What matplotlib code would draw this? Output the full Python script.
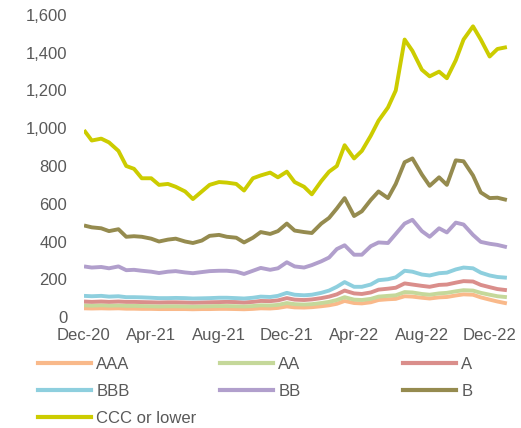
import numpy as np
import pandas as pd
import matplotlib
matplotlib.use('Agg')
import matplotlib.pyplot as plt
import matplotlib.dates as mdates
from matplotlib.lines import Line2D
from matplotlib.ticker import FuncFormatter

plt.rcParams['font.family'] = ['Liberation Sans', 'DejaVu Sans']

# semi-monthly sampling, Dec-20 .. Jan-23
dates = pd.date_range('2020-12-01', '2023-01-01', freq='SMS')

aaa = [46, 45, 46, 45, 46, 44, 44, 43, 43, 42, 42, 42, 42, 41, 42, 42, 43, 43, 42, 41,
       43, 46, 45, 48, 56, 51, 50, 52, 57, 62, 70, 85, 74, 72, 78, 90, 94, 96, 110, 108,
       102, 98, 104, 106, 114, 120, 118, 104, 92, 82, 72]
aa = [62, 60, 62, 60, 61, 59, 59, 58, 57, 56, 57, 57, 56, 55, 56, 57, 58, 58, 57, 56,
      58, 62, 61, 64, 74, 68, 66, 68, 74, 80, 90, 105, 92, 90, 96, 108, 112, 115, 132, 130,
      122, 118, 125, 128, 136, 142, 140, 128, 118, 110, 105]
a = [82, 80, 82, 80, 82, 80, 80, 79, 78, 77, 78, 78, 77, 76, 77, 78, 79, 80, 79, 77,
     80, 85, 84, 88, 100, 92, 90, 93, 100, 108, 120, 140, 125, 122, 130, 145, 150, 155, 178, 172,
     165, 160, 170, 172, 182, 190, 188, 170, 158, 148, 142]
bbb = [112, 110, 112, 108, 110, 105, 105, 104, 102, 100, 100, 101, 100, 98, 99, 100, 102, 102, 100, 98,
       102, 108, 106, 112, 128, 118, 115, 118, 128, 140, 160, 185, 160, 160, 172, 195, 200, 210, 245, 240,
       225, 220, 232, 235, 252, 262, 258, 235, 220, 212, 208]
bb = [268, 262, 265, 258, 268, 248, 250, 245, 240, 233, 240, 243, 236, 232, 238, 243, 245, 245, 240, 228,
      245, 260, 250, 258, 290, 268, 262, 275, 295, 315, 360, 380, 330, 330, 375, 395, 392, 440, 495, 515,
      455, 425, 470, 448, 500, 490, 435, 398, 388, 382, 370]
b = [485, 475, 470, 455, 465, 425, 428, 425, 415, 400, 410, 415, 400, 392, 405, 430, 435, 425, 420, 395,
     420, 450, 440, 455, 495, 458, 450, 445, 495, 525, 575, 630, 535, 560, 620, 665, 630, 705, 820, 840,
     755, 695, 740, 700, 830, 825, 750, 660, 630, 632, 620]
ccc = [990, 935, 945, 925, 880, 800, 785, 735, 735, 700, 705, 690, 665, 625, 665, 700, 715, 712, 705, 670,
       735, 750, 765, 740, 770, 715, 690, 650, 720, 770, 800, 910, 840, 880, 960, 1040, 1110, 1200, 1470, 1410,
       1310, 1275, 1300, 1265, 1360, 1470, 1540, 1470, 1380, 1420, 1430]

labels = ['AAA', 'AA', 'A', 'BBB', 'BB', 'B', 'CCC or lower']
colors = ['#F9B98A', '#C5D89A', '#DA8E8B', '#8ECFDE', '#B19FCC', '#958B4F', '#CCCC00']
series = [aaa, aa, a, bbb, bb, b, ccc]

grey = '#595959'

fig = plt.figure(figsize=(5.21, 4.28), dpi=100)
ax = fig.add_axes([84 / 521, 1 - 317 / 428, (508 - 84) / 521, (317 - 15) / 428])

for vals, col in zip(series, colors):
    ax.plot(dates, vals, color=col, lw=2.8, solid_capstyle='butt', solid_joinstyle='round')

ax.set_ylim(0, 1600)
ax.set_yticks(np.arange(0, 1601, 200))
ax.yaxis.set_major_formatter(FuncFormatter(lambda v, p: f'{int(v):,}'))
ax.set_xlim(dates[0], pd.Timestamp('2023-01-03'))
ticks = pd.date_range('2020-12-01', '2022-12-01', freq='4MS')
ax.set_xticks(ticks)
ax.xaxis.set_major_formatter(mdates.DateFormatter('%b-%y'))

for s in ax.spines.values():
    s.set_visible(False)
ax.tick_params(axis='both', length=0, labelsize=12, labelcolor=grey)
ax.tick_params(axis='y', pad=12)
ax.tick_params(axis='x', pad=8)

# legend: three columns placed separately
col_x = [38, 220, 403]
groups = [[0, 3, 6], [1, 4], [2, 5]]
for gx, idx in zip(col_x, groups):
    handles = [Line2D([], [], color=colors[i], lw=3) for i in idx]
    leg = fig.legend(handles, [labels[i] for i in idx], loc='upper left',
                     bbox_to_anchor=(gx / 521, 1 - 357 / 428), frameon=False,
                     fontsize=12, handlelength=3.2, handletextpad=0.3,
                     labelspacing=0.72, borderpad=0, borderaxespad=0)
    for t in leg.get_texts():
        t.set_color(grey)

fig.savefig('out.png', dpi=100)
